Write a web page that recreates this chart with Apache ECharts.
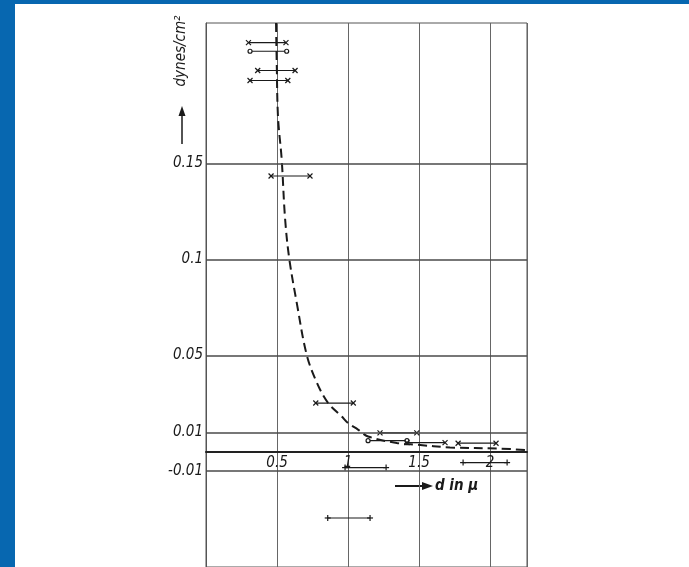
<!DOCTYPE html>
<html>
<head>
<meta charset="utf-8">
<style>
  html, body { margin: 0; padding: 0; background: #ffffff; }
  #chart { width: 689px; height: 567px; }
</style>
<script src="https://cdn.jsdelivr.net/npm/echarts@6/dist/echarts.min.js"></script>
</head>
<body>
<div id="chart"></div>
<script>
// Axis ticks and reference lines
const xTickValues = [0.5, 1, 1.5, 2];
const yTickValues = [0.15, 0.1, 0.05, 0.01, -0.01];
const hLineValues = [0.15, 0.1, 0.05, 0.01, 0, -0.01];

// Fitted (dashed) curve
const curveX = [0.493, 0.498, 0.507, 0.533, 0.556, 0.585, 0.639, 0.709, 0.78, 0.859, 0.956, 1.0, 1.07, 1.141, 1.343, 1.484, 1.718, 2.07, 2.258];
const curveY = [0.223, 0.202, 0.174, 0.152, 0.122, 0.101, 0.0774, 0.0504, 0.036, 0.0254, 0.0183, 0.0149, 0.0115, 0.0079, 0.0045, 0.0036, 0.0022, 0.0016, 0.0008];

// Measured values with their spread in d
const barY  = [0.2128, 0.2083, 0.1983, 0.1931, 0.1434, 0.0253, 0.0098, 0.0057, 0.0047, 0.0044, -0.0083, -0.0057, -0.0345];
const barLo = [0.299, 0.310, 0.364, 0.310, 0.458, 0.773, 1.225, 1.141, 1.415, 1.775, 0.979, 1.81, 0.857];
const barHi = [0.563, 0.568, 0.627, 0.576, 0.732, 1.037, 1.484, 1.415, 1.683, 2.042, 1.268, 2.12, 1.155];
const barEnd = ['x', 'o', 'x', 'x', 'x', 'x', 'x', 'o', 'x', 'x', '+', '+', '+'];

const Y_MIN = -0.06, Y_MAX = 0.223;
const GRID_TOP = 23, GRID_BOTTOM = 0, CHART_H = 567;

const INK = '#1a1a1a';
const BLUE = '#0767b0';
const FONT = '"Liberation Sans Narrow", "DejaVu Sans Condensed", sans-serif';

const curveData = curveX.map((x, i) => [x, curveY[i]]);
const barData = barY.map((y, i) => [y, barLo[i], barHi[i], i]);

// The d axis runs along the zero line: shift it up from the grid's bottom edge.
const gridH = CHART_H - GRID_TOP - GRID_BOTTOM;
const zeroFromBottom = gridH * (0 - Y_MIN) / (Y_MAX - Y_MIN);

function endMark(kind, p, s) {
  const st = { stroke: INK, lineWidth: 1.2, fill: null };
  if (kind === 'o') {
    return [{ type: 'circle', shape: { cx: p[0], cy: p[1], r: 2 }, style: { stroke: INK, lineWidth: 1.2, fill: '#fff' } }];
  }
  if (kind === '+') {
    return [
      { type: 'line', shape: { x1: p[0] - 3, y1: p[1], x2: p[0] + 3, y2: p[1] }, style: st },
      { type: 'line', shape: { x1: p[0], y1: p[1] - 3, x2: p[0], y2: p[1] + 3 }, style: st }
    ];
  }
  return [
    { type: 'line', shape: { x1: p[0] - s, y1: p[1] - s, x2: p[0] + s, y2: p[1] + s }, style: st },
    { type: 'line', shape: { x1: p[0] - s, y1: p[1] + s, x2: p[0] + s, y2: p[1] - s }, style: st }
  ];
}

function renderBar(params, api) {
  const y = api.value(0);
  const a = api.coord([api.value(1), y]);
  const b = api.coord([api.value(2), y]);
  const kind = barEnd[api.value(3)];
  const children = [
    { type: 'line', shape: { x1: a[0], y1: a[1], x2: b[0], y2: b[1] }, style: { stroke: INK, lineWidth: 1.2 } }
  ];
  return { type: 'group', children: children.concat(endMark(kind, a, 2.5), endMark(kind, b, 2.5)) };
}

const chart = echarts.init(document.getElementById('chart'), null, { renderer: 'canvas' });
chart.setOption({
  backgroundColor: '#ffffff',
  animation: false,
  grid: {
    left: 206, top: GRID_TOP, right: 162, bottom: GRID_BOTTOM,
    outerBoundsMode: 'none',
    containLabel: false,
    show: true, borderColor: '#555', borderWidth: 1, backgroundColor: 'transparent'
  },
  xAxis: {
    type: 'value', min: 0, max: 2.26, interval: 0.5,
    position: 'bottom',
    offset: -zeroFromBottom,
    axisLine: { show: true, onZero: false, lineStyle: { color: '#222', width: 2 } },
    axisTick: { show: false },
    splitLine: { show: true, lineStyle: { color: '#666', width: 1 } },
    axisLabel: {
      customValues: xTickValues,
      margin: 4,
      color: INK, fontFamily: FONT, fontStyle: 'italic', fontSize: 15,
      formatter: v => String(v)
    }
  },
  yAxis: {
    type: 'value', min: Y_MIN, max: Y_MAX,
    axisLine: { show: true, onZero: false, lineStyle: { color: '#555', width: 1 } },
    axisTick: { show: false },
    splitLine: { show: false },
    axisLabel: {
      customValues: yTickValues,
      margin: 3,
      color: INK, fontFamily: FONT, fontStyle: 'italic', fontSize: 15,
      formatter: v => String(v)
    }
  },
  series: [
    {
      type: 'line',
      data: curveData,
      smooth: 0.35,
      symbol: 'none',
      lineStyle: { color: INK, width: 2, type: [9, 5] },
      z: 3,
      markLine: {
        silent: true,
        symbol: 'none',
        label: { show: false },
        data: hLineValues.map(v => ({
          yAxis: v,
          lineStyle: { color: v === 0 ? '#222' : '#4a4a4a', width: v === 0 ? 2 : 1.5, type: 'solid' }
        }))
      }
    },
    {
      type: 'custom',
      renderItem: renderBar,
      data: barData,
      encode: { x: [1, 2], y: 0 },
      z: 4
    }
  ],
  graphic: [
    { type: 'rect', shape: { x: 0, y: 0, width: 15, height: 567 }, style: { fill: BLUE }, z: 100 },
    { type: 'rect', shape: { x: 0, y: 0, width: 689, height: 4 }, style: { fill: BLUE }, z: 100 },
    {
      type: 'text', x: 181, y: 51, rotation: Math.PI / 2,
      style: {
        text: 'dynes/cm²', fill: INK, font: 'italic 15px ' + FONT,
        align: 'center', verticalAlign: 'middle'
      }
    },
    { type: 'line', shape: { x1: 182, y1: 144, x2: 182, y2: 112 }, style: { stroke: INK, lineWidth: 1.5 } },
    { type: 'polygon', shape: { points: [[182, 106], [178.5, 116], [185.5, 116]] }, style: { fill: INK } },
    { type: 'line', shape: { x1: 395, y1: 486, x2: 424, y2: 486 }, style: { stroke: INK, lineWidth: 2 } },
    { type: 'polygon', shape: { points: [[433, 486], [422, 482], [422, 490]] }, style: { fill: INK } },
    {
      type: 'text', x: 435, y: 486,
      style: {
        text: 'd in μ', fill: INK, font: 'italic bold 15px ' + FONT,
        align: 'left', verticalAlign: 'middle'
      }
    }
  ]
});
</script>
</body>
</html>
